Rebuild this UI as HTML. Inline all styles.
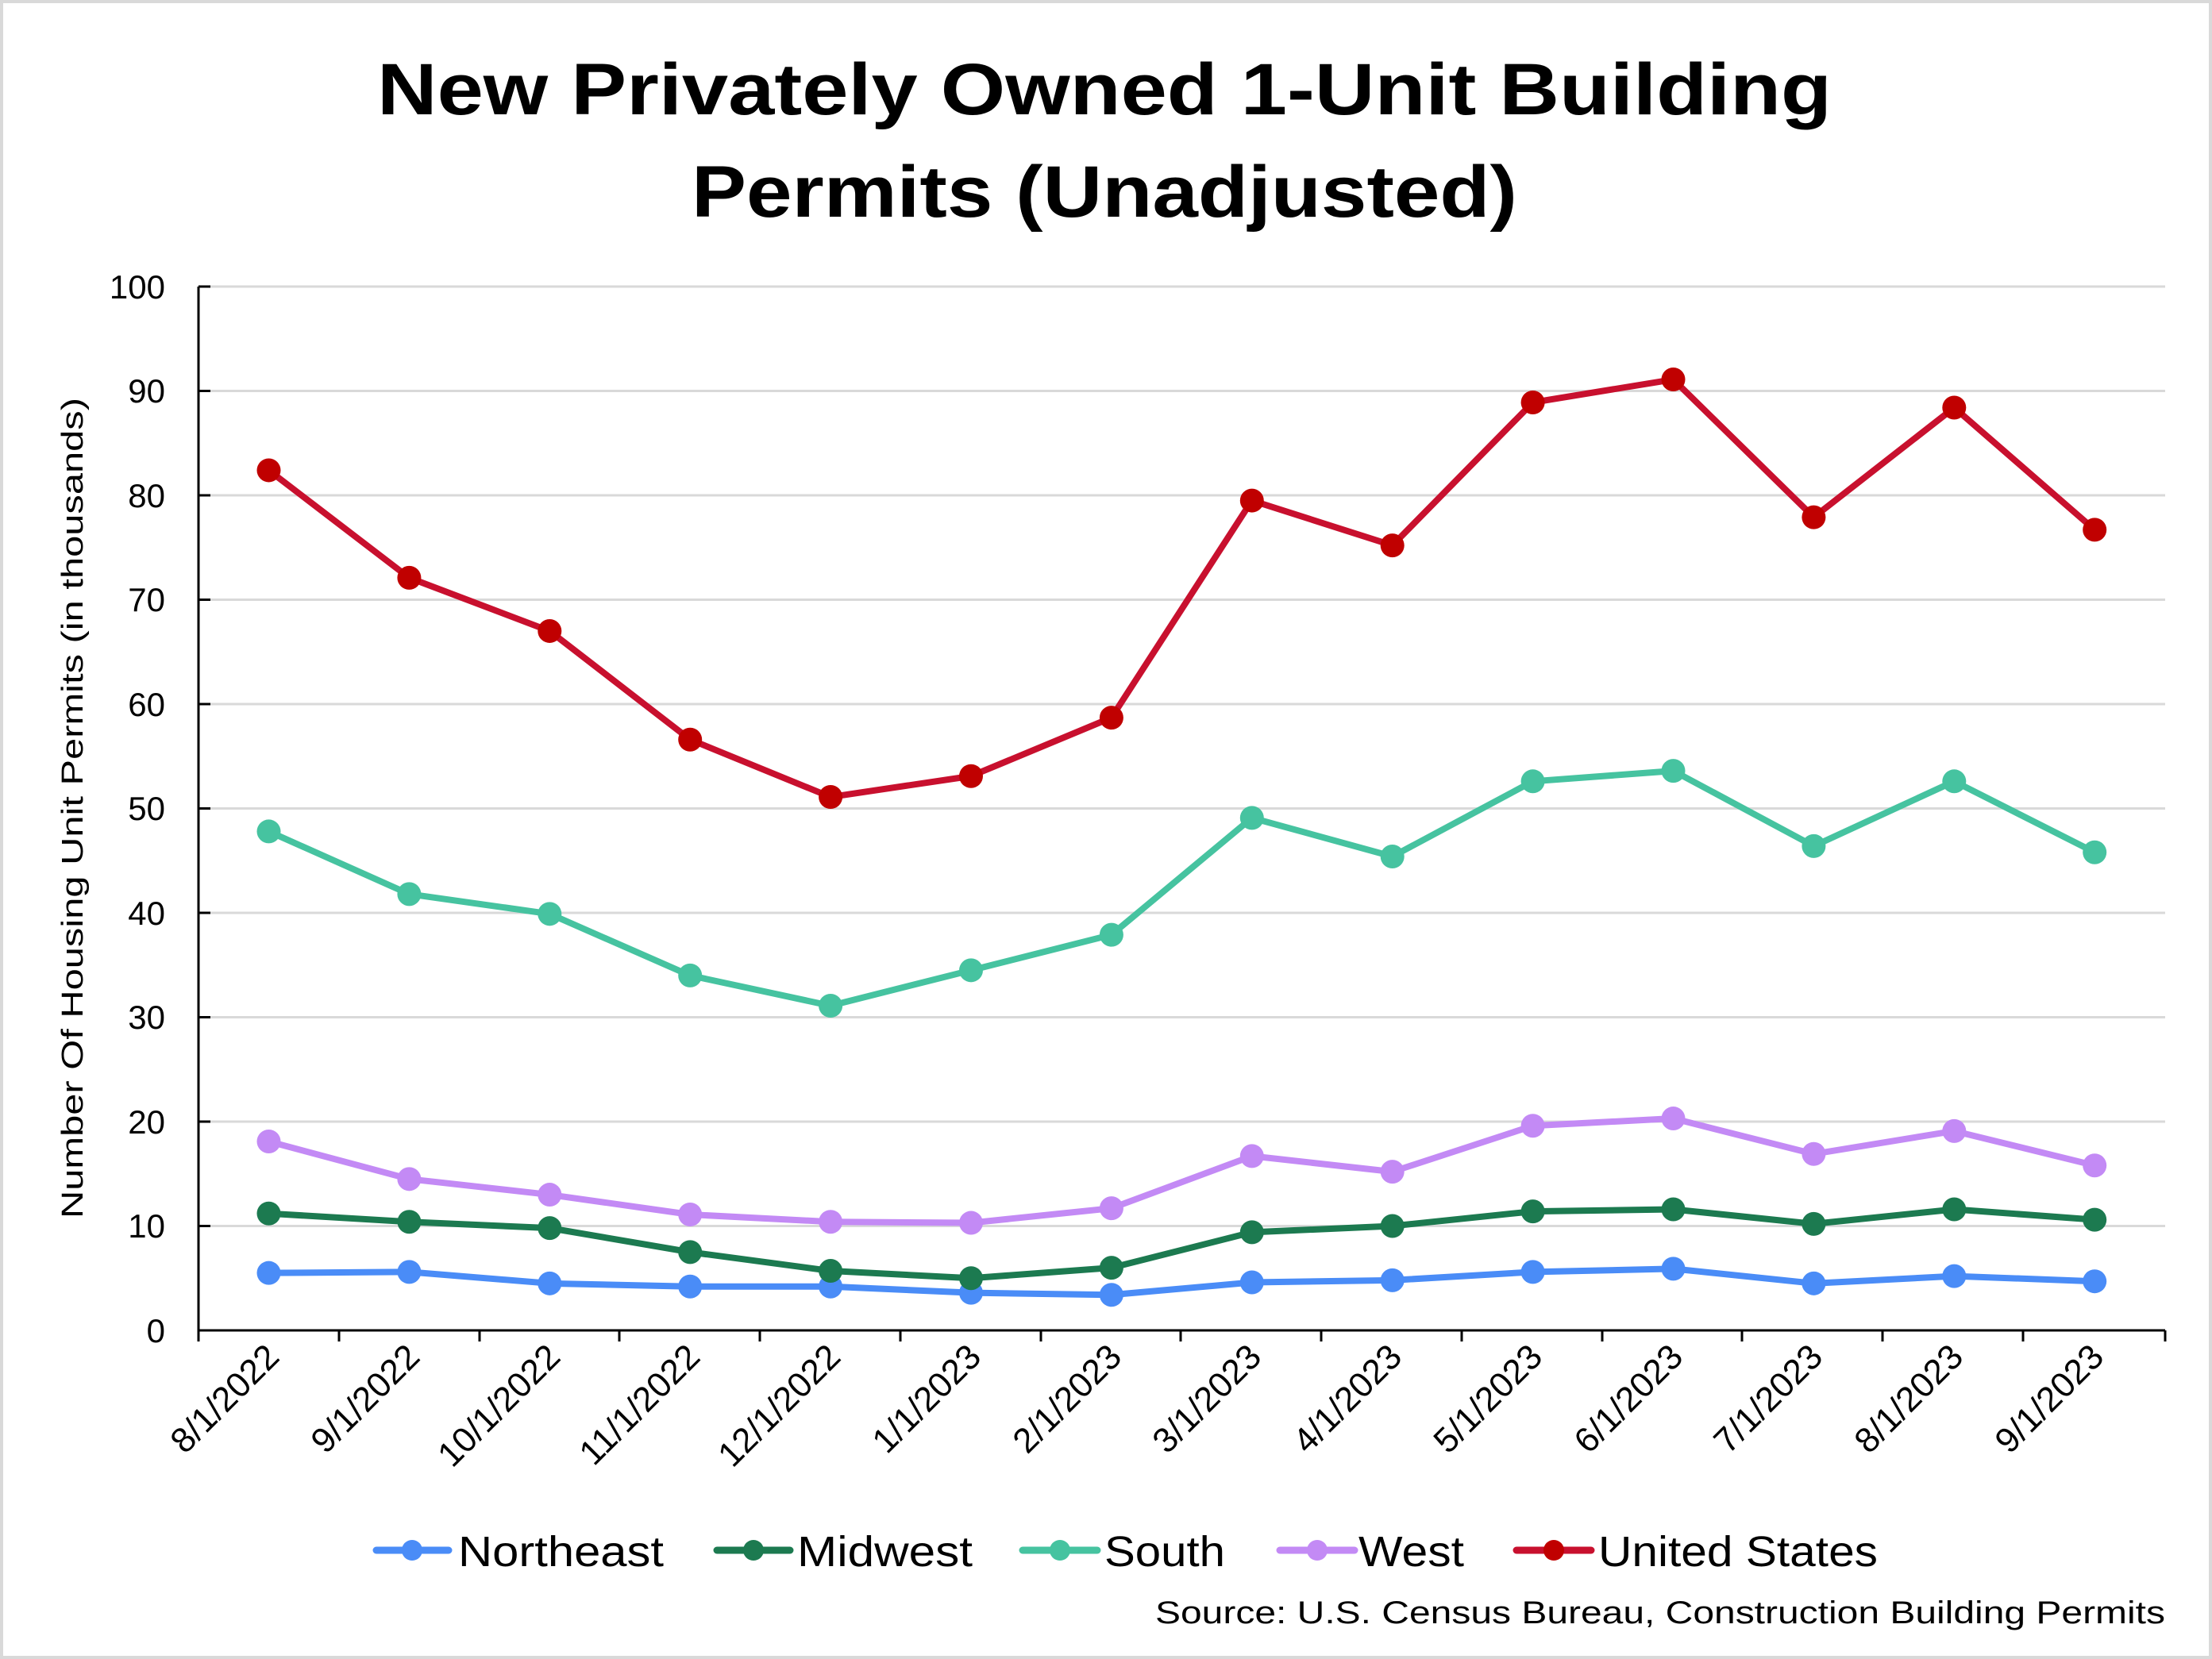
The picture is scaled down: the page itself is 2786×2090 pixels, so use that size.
<!DOCTYPE html>
<html><head><meta charset="utf-8"><style>html,body{margin:0;padding:0;background:#fff}svg{display:block}</style></head>
<body>
<svg width="2786" height="2090" viewBox="0 0 2786 2090" xmlns="http://www.w3.org/2000/svg" font-family="'Liberation Sans', sans-serif">
<rect x="2" y="2" width="2782" height="2086" fill="#fff" stroke="#d9d9d9" stroke-width="4"/>
<g font-weight="bold" font-size="92" text-anchor="middle" fill="#000">
<text x="1391" y="144" textLength="1832" lengthAdjust="spacingAndGlyphs">New Privately Owned  1-Unit Building</text>
<text x="1391" y="273" textLength="1040" lengthAdjust="spacingAndGlyphs">Permits (Unadjusted)</text>
</g>
<g stroke="#d9d9d9" stroke-width="3">
<line x1="265" x2="2727" y1="361" y2="361"/><line x1="265" x2="2727" y1="492.5" y2="492.5"/><line x1="265" x2="2727" y1="624" y2="624"/><line x1="265" x2="2727" y1="755.5" y2="755.5"/><line x1="265" x2="2727" y1="887" y2="887"/><line x1="265" x2="2727" y1="1018.5" y2="1018.5"/><line x1="265" x2="2727" y1="1150" y2="1150"/><line x1="265" x2="2727" y1="1281.5" y2="1281.5"/><line x1="265" x2="2727" y1="1413" y2="1413"/><line x1="265" x2="2727" y1="1544.5" y2="1544.5"/>
</g>
<g stroke="#000" stroke-width="3" fill="none">
<line x1="250" y1="361" x2="250" y2="1676"/><line x1="250" y1="1676" x2="2727" y2="1676"/>
<path d="M250 361h15M250 492.5h15M250 624h15M250 755.5h15M250 887h15M250 1018.5h15M250 1150h15M250 1281.5h15M250 1413h15M250 1544.5h15M250 1676h15"/>
<path d="M250 1676v14M427 1676v14M604 1676v14M780 1676v14M957 1676v14M1134 1676v14M1311 1676v14M1487 1676v14M1664 1676v14M1841 1676v14M2018 1676v14M2194 1676v14M2371 1676v14M2548 1676v14M2727 1676v14"/>
</g>
<g font-size="42" text-anchor="end" fill="#000">
<text x="208" y="376">100</text><text x="208" y="507">90</text><text x="208" y="639">80</text><text x="208" y="770">70</text><text x="208" y="902">60</text><text x="208" y="1033">50</text><text x="208" y="1165">40</text><text x="208" y="1296">30</text><text x="208" y="1428">20</text><text x="208" y="1559">10</text><text x="208" y="1691">0</text>
</g>
<text transform="translate(104,1018) rotate(-90)" font-size="38" text-anchor="middle" textLength="1034" lengthAdjust="spacingAndGlyphs">Number Of Housing Unit Permits (in thousands)</text>
<g font-size="44" text-anchor="end" fill="#000">
<text transform="translate(354,1712) rotate(-45)">8/1/2022</text>
<text transform="translate(531,1712) rotate(-45)">9/1/2022</text>
<text transform="translate(708,1712) rotate(-45)">10/1/2022</text>
<text transform="translate(884,1712) rotate(-45)">11/1/2022</text>
<text transform="translate(1061,1712) rotate(-45)">12/1/2022</text>
<text transform="translate(1238,1712) rotate(-45)">1/1/2023</text>
<text transform="translate(1415,1712) rotate(-45)">2/1/2023</text>
<text transform="translate(1591,1712) rotate(-45)">3/1/2023</text>
<text transform="translate(1768,1712) rotate(-45)">4/1/2023</text>
<text transform="translate(1945,1712) rotate(-45)">5/1/2023</text>
<text transform="translate(2122,1712) rotate(-45)">6/1/2023</text>
<text transform="translate(2298,1712) rotate(-45)">7/1/2023</text>
<text transform="translate(2475,1712) rotate(-45)">8/1/2023</text>
<text transform="translate(2652,1712) rotate(-45)">9/1/2023</text>
</g>
<g id="series" fill="none" stroke-width="8" stroke-linejoin="round">
</g>
<script>
(function(){
var ns="http://www.w3.org/2000/svg";
var g=document.getElementById("series");
var data=[
["#4a8cf7","#4a8cf7",[5.5,5.6,4.5,4.2,4.2,3.6,3.4,4.6,4.8,5.6,5.9,4.5,5.2,4.7]],
["#1c7a50","#1c7a50",[11.2,10.4,9.8,7.5,5.7,5.0,6.0,9.4,10.0,11.4,11.6,10.2,11.6,10.6]],
["#46c3a0","#46c3a0",[47.8,41.8,39.9,34.0,31.1,34.5,37.9,49.1,45.4,52.6,53.6,46.4,52.6,45.8]],
["#c38af5","#c38af5",[18.1,14.5,13.0,11.1,10.4,10.3,11.7,16.7,15.2,19.6,20.3,16.9,19.1,15.8]],
["#c8102e","#c00000",[82.4,72.1,67.0,56.6,51.1,53.1,58.7,79.5,75.2,88.9,91.1,77.9,88.4,76.7]]];
data.forEach(function(s){
var pts=s[2].map(function(v,i){return [338.5+i*176.9,1676-v*13.15];});
var p=document.createElementNS(ns,"polyline");
p.setAttribute("points",pts.map(function(q){return q[0]+","+q[1];}).join(" "));
p.setAttribute("stroke",s[0]);g.appendChild(p);
pts.forEach(function(q){var c=document.createElementNS(ns,"circle");c.setAttribute("cx",q[0]);c.setAttribute("cy",q[1]);c.setAttribute("r",15);c.setAttribute("fill",s[1]);c.setAttribute("stroke","none");g.appendChild(c);});
});
})();
</script>
<g stroke-width="9" stroke-linecap="round">
<line x1="474" x2="565" y1="1953" y2="1953" stroke="#4a8cf7"/><circle cx="519" cy="1953" r="13" fill="#4a8cf7"/>
<line x1="903" x2="995" y1="1953" y2="1953" stroke="#1c7a50"/><circle cx="949" cy="1953" r="13" fill="#1c7a50"/>
<line x1="1288" x2="1382" y1="1953" y2="1953" stroke="#46c3a0"/><circle cx="1335" cy="1953" r="13" fill="#46c3a0"/>
<line x1="1612" x2="1706" y1="1953" y2="1953" stroke="#c38af5"/><circle cx="1659" cy="1953" r="13" fill="#c38af5"/>
<line x1="1910" x2="2004" y1="1953" y2="1953" stroke="#c8102e"/><circle cx="1957" cy="1953" r="13" fill="#c00000"/>
</g>
<g font-size="54" fill="#000">
<text x="577" y="1973" textLength="259" lengthAdjust="spacingAndGlyphs">Northeast</text>
<text x="1004" y="1973" textLength="221" lengthAdjust="spacingAndGlyphs">Midwest</text>
<text x="1391" y="1973" textLength="152" lengthAdjust="spacingAndGlyphs">South</text>
<text x="1711" y="1973" textLength="133" lengthAdjust="spacingAndGlyphs">West</text>
<text x="2013" y="1973" textLength="352" lengthAdjust="spacingAndGlyphs">United States</text>
</g>
<text x="2727" y="2045" font-size="40" text-anchor="end" textLength="1272" lengthAdjust="spacingAndGlyphs">Source: U.S. Census Bureau, Construction Building Permits</text>
</svg>
</body></html>
